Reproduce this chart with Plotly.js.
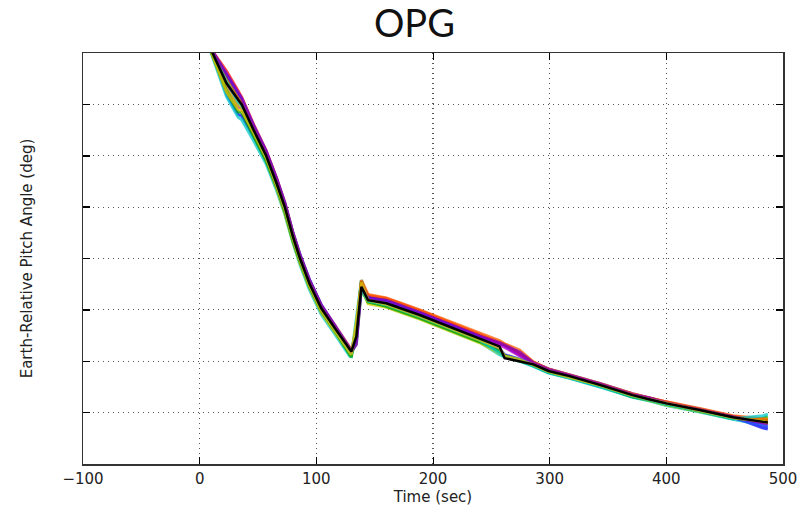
<!DOCTYPE html>
<html>
<head>
<meta charset="utf-8">
<script src="https://cdn.plot.ly/plotly-3.0.1.min.js"></script>
<style>html,body{margin:0;padding:0;background:#fff;}#chart{width:811px;height:510px;}</style>
</head>
<body>
<div id="chart"></div>
<script>
// Time samples (sec) shared by all trajectories
var timeSec = [9, 23, 33, 36, 46, 57, 66, 73, 80, 86, 94, 104, 116, 128.6, 130, 134.3, 138.6, 144.3, 160, 188.6, 214.3, 240, 257, 261.4, 274.3, 286, 299, 317, 343, 371, 385, 400, 428.6, 457, 483, 487];

// Nominal (black) trajectory
var nominalPitch = [81, 74.1, 70.9, 70.0, 65.1, 60.0, 54.6, 50.0, 44.2, 40.0, 35.2, 30.4, 26.4, 22.2, 21.9, 24.8, 34.5, 31.9, 31.3, 29.0, 26.7, 24.4, 22.9, 20.6, 20.0, 19.4, 18.1, 17.1, 15.4, 13.4, 12.6, 11.8, 10.5, 9.1, 8.2, 8.1];

// Dispersed (Monte Carlo) trajectories
var run1 = [81.2, 72.0, 68.0, 67.8, 63.8, 59.0, 53.8, 49.0, 43.6, 39.2, 34.6, 29.8, 25.8, 21.6, 21.4, 26.8, 35.4, 32.6, 31.9, 29.6, 27.3, 25.0, 23.5, 23.0, 21.2, 19.8, 18.5, 17.4, 15.7, 13.7, 12.9, 12.0, 10.7, 9.2, 7.0, 6.8];
var run2 = [80.8, 75.5, 71.5, 70.4, 65.6, 60.6, 55.2, 50.5, 44.8, 40.6, 35.8, 30.9, 26.7, 22.0, 21.6, 23.5, 34.0, 31.4, 30.8, 28.5, 26.2, 23.9, 21.8, 21.2, 20.3, 19.1, 17.8, 16.8, 15.1, 13.1, 12.4, 11.5, 10.2, 8.8, 8.9, 9.2];
var run3 = [81.0, 76.5, 72.6, 71.4, 66.2, 61.0, 55.6, 50.9, 45.0, 40.7, 35.9, 31.0, 27.0, 22.6, 22.2, 25.5, 35.0, 32.8, 32.2, 29.9, 27.6, 25.3, 23.8, 23.3, 21.6, 19.8, 18.4, 17.3, 15.6, 13.6, 12.9, 12.0, 10.6, 9.3, 8.6, 8.4];
var run4 = [80.5, 71.5, 67.5, 67.0, 63.0, 58.4, 53.2, 48.6, 43.0, 38.8, 34.0, 29.2, 25.2, 21.0, 20.9, 28.5, 35.8, 32.0, 30.6, 28.3, 26.0, 23.7, 21.3, 20.8, 20.0, 19.0, 17.7, 16.7, 15.0, 13.0, 12.3, 11.4, 10.1, 8.7, 7.6, 7.4];
var run5 = [81.3, 73.4, 69.6, 69.1, 64.4, 59.4, 54.0, 49.4, 43.8, 39.6, 34.9, 30.1, 26.1, 22.0, 21.7, 24.0, 34.8, 32.2, 31.6, 29.3, 27.0, 24.8, 23.2, 22.7, 21.0, 19.6, 18.3, 17.2, 15.5, 13.5, 12.8, 11.9, 10.6, 9.1, 8.0, 7.8];
var run6 = [80.6, 73.0, 70.0, 69.4, 64.2, 59.2, 53.6, 48.8, 43.2, 39.1, 34.4, 29.6, 25.6, 21.4, 21.1, 27.0, 34.9, 31.2, 30.5, 28.2, 25.9, 23.6, 21.5, 21.0, 20.2, 19.2, 17.9, 16.9, 15.2, 13.2, 12.4, 11.5, 10.2, 8.9, 8.6, 8.8];
var run7 = [81.0, 75.8, 72.0, 71.0, 65.9, 60.8, 55.4, 50.8, 45.0, 40.8, 36.0, 31.1, 26.9, 22.5, 22.1, 24.2, 35.2, 32.4, 31.8, 29.4, 27.1, 24.7, 22.4, 21.3, 20.4, 19.5, 18.2, 17.1, 15.5, 13.4, 12.7, 11.9, 10.5, 9.0, 7.4, 7.2];
var run8 = [80.7, 72.6, 68.5, 68.4, 64.0, 59.0, 53.9, 49.2, 43.4, 39.4, 34.6, 29.9, 25.9, 21.2, 20.8, 26.0, 35.6, 31.6, 30.7, 28.4, 26.1, 23.8, 22.0, 21.1, 20.1, 19.2, 17.9, 16.9, 15.2, 13.1, 12.5, 11.6, 10.3, 8.9, 8.4, 8.5];
var run9 = [81.1, 74.8, 71.2, 70.5, 65.4, 60.3, 55.0, 50.3, 44.6, 40.3, 35.5, 30.7, 26.6, 22.4, 22.0, 25.0, 35.8, 33.0, 32.3, 30.0, 27.7, 25.4, 24.0, 23.4, 22.2, 19.9, 18.5, 17.4, 15.7, 13.7, 12.9, 12.1, 10.8, 9.4, 8.8, 8.6];
var run10 = [80.9, 74.4, 70.5, 69.8, 64.9, 59.8, 54.4, 49.8, 44.0, 39.8, 35.0, 30.2, 26.2, 21.8, 21.4, 26.0, 34.2, 31.7, 31.0, 28.7, 26.4, 24.1, 21.6, 20.9, 20.2, 19.1, 17.8, 16.8, 15.1, 13.2, 12.5, 11.6, 10.3, 8.8, 9.4, 9.7];
var run11 = [81.0, 76.0, 72.2, 71.2, 66.0, 60.9, 55.5, 50.7, 44.9, 40.6, 35.8, 31.0, 26.8, 22.3, 21.9, 23.2, 34.6, 32.3, 31.9, 29.5, 27.2, 24.9, 23.6, 23.1, 21.8, 19.7, 18.4, 17.3, 15.6, 13.5, 12.9, 11.9, 10.5, 9.2, 8.0, 7.9];
var run12 = [80.8, 72.4, 69.0, 68.8, 64.6, 59.6, 54.2, 49.6, 43.9, 39.7, 34.8, 30.0, 26.0, 21.7, 21.3, 27.5, 35.3, 31.9, 31.1, 28.8, 26.5, 24.2, 22.6, 21.0, 20.3, 19.3, 18.0, 16.9, 15.3, 13.3, 12.6, 11.7, 10.4, 9.0, 8.3, 8.0];

var runs = [run1, run2, run3, run4, run5, run6, run7, run8, run9, run10, run11, run12];
var runColors = ['#0000ff', '#00a000', '#ff0000', '#00c8c8', '#c000c0', '#d0d000',
                 '#3030ff', '#00a000', '#ff6000', '#00c8c8', '#8000c0', '#e0c000'];

var xTicks = [-100, 0, 100, 200, 300, 400, 500];
var xTickText = ['\u2212100', '0', '100', '200', '300', '400', '500'];

var traces = runs.map(function (r, i) {
  return {x: timeSec, y: r, type: 'scatter', mode: 'lines',
          line: {color: runColors[i], width: 3}, opacity: 0.75, hoverinfo: 'skip'};
});
traces.push({x: timeSec, y: nominalPitch, type: 'scatter', mode: 'lines',
             line: {color: '#000000', width: 2.5}});

var tickFont = {family: 'DejaVu Sans', size: 15, color: '#222'};
var layout = {
  width: 811, height: 510,
  margin: {l: 83, r: 28, t: 53, b: 46},
  paper_bgcolor: '#ffffff', plot_bgcolor: '#ffffff',
  showlegend: false,
  title: {text: 'OPG', font: {family: 'Lato, DejaVu Sans', size: 38, color: '#111'},
          x: 0.511, xref: 'container', xanchor: 'center', y: 0.953, yref: 'container', yanchor: 'middle'},
  xaxis: {
    range: [-100, 500], tickvals: xTicks, ticktext: xTickText,
    ticks: 'inside', ticklen: 7, tickcolor: '#000', tickwidth: 1,
    showline: true, linecolor: '#333', linewidth: 1.5, mirror: 'ticks',
    showgrid: true, gridcolor: '#555', griddash: '1px,4px', gridwidth: 1.2, zeroline: false,
    tickfont: tickFont,
    title: {text: 'Time (sec)', font: {family: 'DejaVu Sans', size: 15, color: '#222'}, standoff: 4}
  },
  yaxis: {
    range: [0, 80], dtick: 10, tick0: 0,
    ticks: 'inside', ticklen: 7, tickcolor: '#000', tickwidth: 1.5,
    showline: true, linecolor: '#333', linewidth: 1.5, mirror: 'ticks',
    showgrid: true, gridcolor: '#555', griddash: '1px,4px', gridwidth: 1.2, zeroline: false,
    showticklabels: false,
    title: {text: 'Earth-Relative Pitch Angle (deg)', font: {family: 'DejaVu Sans', size: 15, color: '#222'}, standoff: 45},
    automargin: true
  }
};

Plotly.newPlot('chart', traces, layout, {staticPlot: true, displayModeBar: false});
</script>
</body>
</html>
